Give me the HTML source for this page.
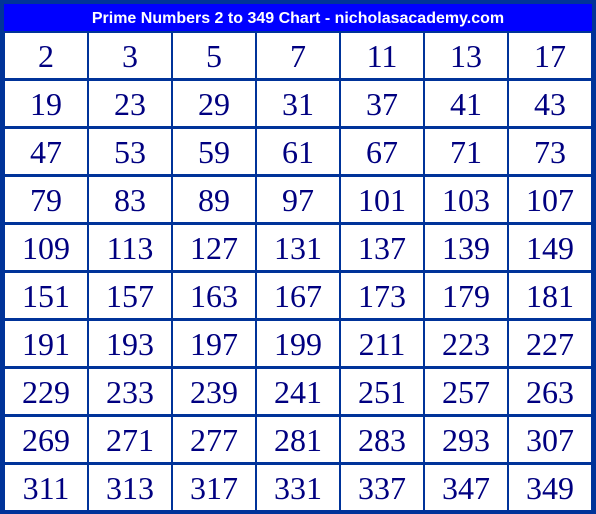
<!DOCTYPE html>
<html><head><meta charset="utf-8"><style>
html,body{margin:0;padding:0;background:#003399;}
svg{display:block}
</style></head><body>
<svg id="chart" width="596" height="514" xmlns="http://www.w3.org/2000/svg">
<rect x="0" y="0" width="596" height="514" fill="#003399"/>
<rect x="4" y="4" width="588" height="27" fill="#0000ff"/>
<text x="298" y="23" text-anchor="middle" fill="#ffffff" font-family="Liberation Sans, sans-serif" font-weight="bold" font-size="16">Prime Numbers 2 to 349 Chart - nicholasacademy.com</text>
<g id="cells"></g>
</svg>
<script>
const primes = [2,3,5,7,11,13,17,19,23,29,31,37,41,43,47,53,59,61,67,71,73,79,83,89,97,101,103,107,109,113,127,131,137,139,149,151,157,163,167,173,179,181,191,193,197,199,211,223,227,229,233,239,241,251,257,263,269,271,277,281,283,293,307,311,313,317,331,337,347,349];
const cols = 7;
const g = document.getElementById('cells');
const NS = 'http://www.w3.org/2000/svg';
primes.forEach((p, i) => {
  const c = i % cols, r = Math.floor(i / cols);
  const x = 5 + c * 84, y = 33 + r * 48;
  const rect = document.createElementNS(NS, 'rect');
  rect.setAttribute('x', x); rect.setAttribute('y', y);
  rect.setAttribute('width', 82); rect.setAttribute('height', 45);
  rect.setAttribute('fill', '#ffffff');
  
  
  g.appendChild(rect);
  const t = document.createElementNS(NS, 'text');
  t.setAttribute('x', x + 41); t.setAttribute('y', y + 34);
  t.setAttribute('text-anchor', 'middle');
  t.setAttribute('font-family', 'Liberation Serif, serif');
  t.setAttribute('font-size', '32');
  t.setAttribute('fill', '#000080');
  
  
  t.textContent = p;
  g.appendChild(t);
});
</script>
</body></html>
